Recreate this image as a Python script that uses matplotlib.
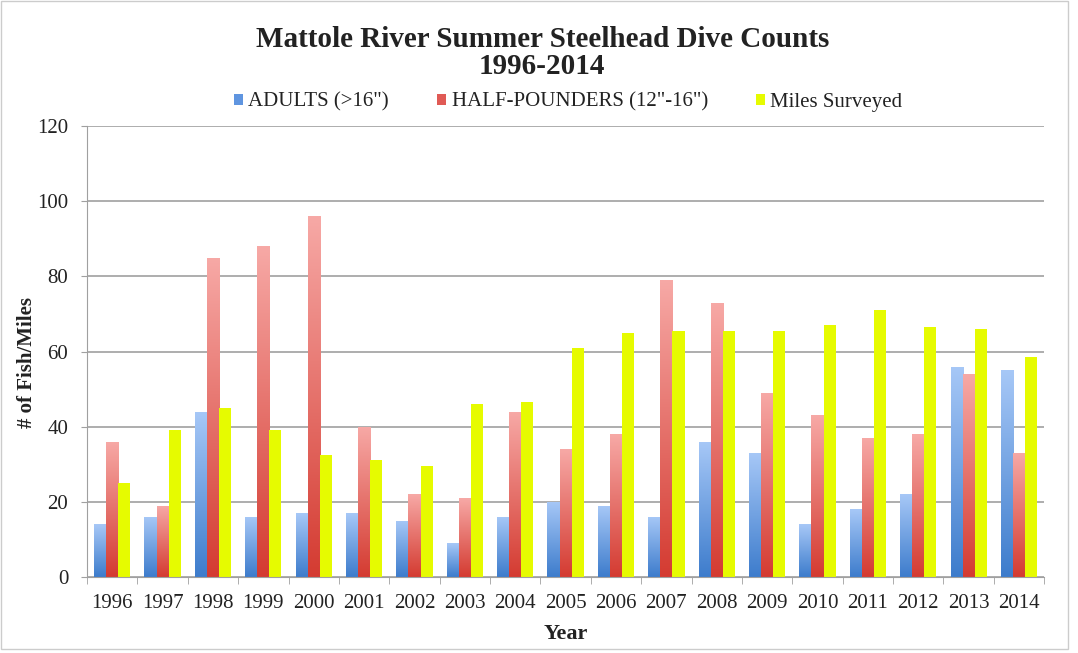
import numpy as np
import matplotlib
matplotlib.use("Agg")
import matplotlib.pyplot as plt
from matplotlib.colors import LinearSegmentedColormap

years = ["1996", "1997", "1998", "1999", "2000", "2001", "2002", "2003", "2004", "2005",
         "2006", "2007", "2008", "2009", "2010", "2011", "2012", "2013", "2014"]
adults = [14, 16, 44, 16, 17, 17, 15, 9, 16, 20, 19, 16, 36, 33, 14, 18, 22, 56, 55]
half_pounders = [36, 19, 85, 88, 96, 40, 22, 21, 44, 34, 38, 79, 73, 49, 43, 37, 38, 54, 33]
miles = [25, 39, 45, 39, 32.5, 31, 29.5, 46, 46.5, 61, 65, 65.5, 65.5, 65.5, 67, 71, 66.5, 66, 58.5]

plt.rcParams['font.family'] = ['Liberation Serif', 'DejaVu Serif']
txtcol = '#222222'

fig = plt.figure(figsize=(10.78, 6.53), dpi=100)
ax = fig.add_axes([0.0807, 0.1164, 0.888, 0.6906])

x = np.arange(len(years))
w = 0.24

# gradient colormaps (dark at bottom, light on top)
blue_cm = LinearSegmentedColormap.from_list('b', ['#3d7ccc', '#a7c8f7'])
red_cm = LinearSegmentedColormap.from_list('r', ['#d43b31', '#f7a9a6'])
grad = np.linspace(0, 1, 256).reshape(-1, 1)

def grad_bars(xs, vals, cmap, label, legcolor):
    bars = ax.bar(xs, vals, w, color='none', edgecolor='none')
    for b in bars:
        x0 = b.get_x()
        h = b.get_height()
        im = ax.imshow(grad, cmap=cmap, aspect='auto', origin='lower',
                       extent=[x0, x0 + b.get_width(), 0, h], zorder=2)
        im.set_clip_path(b)
    # proxy for legend
    return ax.bar([0], [0], 0, color=legcolor, label=label)

ha = grad_bars(x - w, adults, blue_cm, 'ADULTS (>16")', '#5f95e0')
hh = grad_bars(x, half_pounders, red_cm, 'HALF-POUNDERS (12"-16")', '#e05a55')
hm = ax.bar(x + w, miles, w, color='#e6fb00', label='Miles Surveyed', zorder=2)

ax.set_xlim(-0.5, len(years) - 0.5)
ax.set_ylim(0, 120)
ax.set_yticks(np.arange(0, 121, 20))
ax.yaxis.grid(True, color='#a0a0a0', linewidth=1.2)
ax.set_axisbelow(True)

ax.set_xticks(x)
ax.set_xticklabels(years, fontsize=15, color=txtcol)
ax.tick_params(axis='x', length=0, pad=12)
ax.set_xticks(np.arange(-0.5, len(years)), minor=True)
ax.tick_params(axis='x', which='minor', length=5, color='#a0a0a0')
ax.tick_params(axis='y', labelsize=15, labelcolor=txtcol, length=4.5, color='#a0a0a0', pad=9)

for s in ['top', 'right']:
    ax.spines[s].set_visible(False)
ax.spines['left'].set_color('#a0a0a0')
ax.spines['bottom'].set_color('#a0a0a0')

ax.set_xlabel('Year', fontsize=16, fontweight='bold', labelpad=8, color=txtcol)
fig.text(0.025, 0.4456, '# of Fish/Miles', rotation=90, ha='center', va='center',
         fontsize=15, fontweight='bold', color=txtcol)

fig.text(0.503, 0.928, 'Mattole River Summer Steelhead Dive Counts',
         ha='center', va='baseline', fontsize=21, fontweight='bold', color=txtcol)
fig.text(0.503, 0.8867, '1996-2014',
         ha='center', va='baseline', fontsize=21, fontweight='bold', color=txtcol)

ax.legend(handles=[ha, hh, hm], loc='center', bbox_to_anchor=(0.5026, 1.053), ncol=3,
          frameon=False, fontsize=15, handlelength=0.45, handleheight=0.45,
          handletextpad=0.25, columnspacing=2.3, labelcolor=txtcol)

# light outer border
fig.patches.append(plt.Rectangle((0.001, 0.006), 0.99, 0.992, transform=fig.transFigure,
                                 fill=False, edgecolor='#cccccc', linewidth=1))

fig.savefig('out.png', dpi=100)
